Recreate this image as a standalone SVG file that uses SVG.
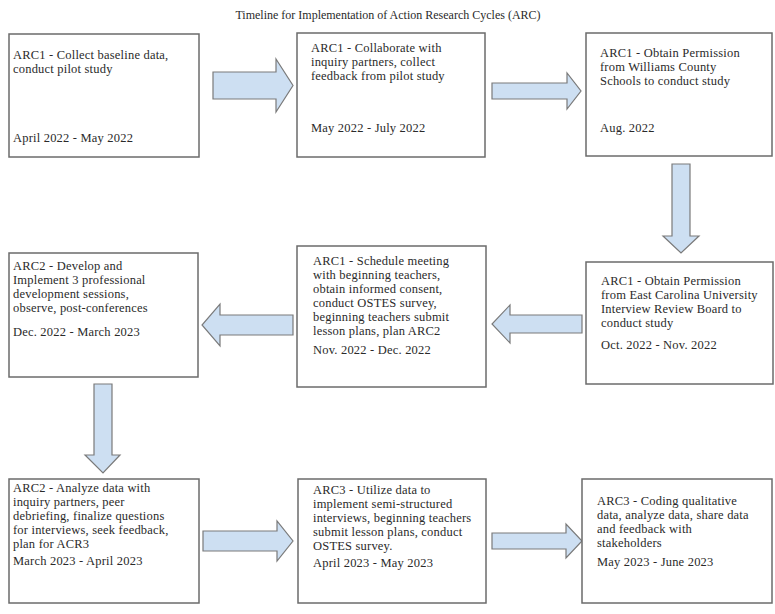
<svg xmlns="http://www.w3.org/2000/svg" width="775" height="614" viewBox="0 0 775 614">
  <style>
    .box { fill: #ffffff; stroke: #6b6b6b; stroke-width: 1.5; }
    .arrow { fill: #cddff2; stroke: #7a7a7a; stroke-width: 1.2; stroke-linejoin: miter; }
    .t { font-family: "Liberation Serif", "Times New Roman", serif; font-size: 12.5px; letter-spacing: 0.2px; fill: #2a2a2a; }
    .title { font-family: "Liberation Serif", "Times New Roman", serif; font-size: 12px; fill: #2a2a2a; text-anchor: middle; }
  </style>
  <rect width="775" height="614" fill="#ffffff"/>

  <text class="title" x="388" y="19">Timeline for Implementation of Action Research Cycles (ARC)</text>

  <!-- connectors: block arrows between steps -->
  <g id="connectors">
    <polygon class="arrow" points="213,72 276,72 276,59 293,85.5 276,112 276,99 213,99"/>
    <polygon class="arrow" points="492,83 567,83 567,73 581,91 567,109 567,99 492,99"/>
    <polygon class="arrow" points="672,164 690,164 690,236 699,236 681,253 663,236 672,236"/>
    <polygon class="arrow" points="582,315 510,315 510,305 492,324 510,343 510,333 582,333"/>
    <polygon class="arrow" points="293,315 220,315 220,304 202,325 220,346 220,335 293,335"/>
    <polygon class="arrow" points="94,384 112,384 112,455 120,455 103,473 85,455 94,455"/>
    <polygon class="arrow" points="203,531 277,531 277,521 293,541 277,561 277,551 203,551"/>
    <polygon class="arrow" points="492,533 566,533 566,524 582,541 566,558 566,549 492,549"/>
  </g>

  <g id="arc1-baseline">
    <rect class="box" x="9" y="34" width="190" height="123"/>
    <text class="t" x="13" y="59">ARC1 - Collect baseline data,</text>
    <text class="t" x="13" y="73">conduct pilot study</text>
    <text class="t" x="13" y="142">April 2022 - May 2022</text>
  </g>

  <g id="arc1-collaborate">
    <rect class="box" x="297" y="33" width="188" height="124"/>
    <text class="t" x="311" y="52">ARC1 - Collaborate with</text>
    <text class="t" x="311" y="66">inquiry partners, collect</text>
    <text class="t" x="311" y="80">feedback from pilot study</text>
    <text class="t" x="311" y="132">May 2022 - July 2022</text>
  </g>

  <g id="arc1-williams">
    <rect class="box" x="586" y="33" width="186" height="123"/>
    <text class="t" x="600" y="57">ARC1 - Obtain Permission</text>
    <text class="t" x="600" y="71">from Williams County</text>
    <text class="t" x="600" y="85">Schools to conduct study</text>
    <text class="t" x="600" y="132">Aug. 2022</text>
  </g>

  <g id="arc1-ecu">
    <rect class="box" x="586" y="262" width="187" height="122"/>
    <text class="t" x="601" y="285">ARC1 - Obtain Permission</text>
    <text class="t" x="601" y="299">from East Carolina University</text>
    <text class="t" x="601" y="313">Interview Review Board to</text>
    <text class="t" x="601" y="327">conduct study</text>
    <text class="t" x="601" y="349">Oct. 2022 - Nov. 2022</text>
  </g>

  <g id="arc1-schedule">
    <rect class="box" x="297" y="246" width="189" height="141"/>
    <text class="t" x="313" y="265">ARC1 - Schedule meeting</text>
    <text class="t" x="313" y="279">with beginning teachers,</text>
    <text class="t" x="313" y="293">obtain informed consent,</text>
    <text class="t" x="313" y="307">conduct OSTES survey,</text>
    <text class="t" x="313" y="321">beginning teachers submit</text>
    <text class="t" x="313" y="335">lesson plans, plan ARC2</text>
    <text class="t" x="313" y="354">Nov. 2022 - Dec. 2022</text>
  </g>

  <g id="arc2-develop">
    <rect class="box" x="9" y="253" width="189" height="124"/>
    <text class="t" x="13" y="270">ARC2 - Develop and</text>
    <text class="t" x="13" y="284">Implement 3 professional</text>
    <text class="t" x="13" y="298">development sessions,</text>
    <text class="t" x="13" y="312">observe, post-conferences</text>
    <text class="t" x="13" y="336">Dec. 2022 - March 2023</text>
  </g>

  <g id="arc2-analyze">
    <rect class="box" x="9" y="479" width="190" height="124"/>
    <text class="t" x="13" y="492">ARC2 - Analyze data with</text>
    <text class="t" x="13" y="506">inquiry partners, peer</text>
    <text class="t" x="13" y="520">debriefing, finalize questions</text>
    <text class="t" x="13" y="534">for interviews, seek feedback,</text>
    <text class="t" x="13" y="548">plan for ACR3</text>
    <text class="t" x="13" y="565">March 2023 - April 2023</text>
  </g>

  <g id="arc3-utilize">
    <rect class="box" x="298" y="479" width="188" height="124"/>
    <text class="t" x="313" y="494">ARC3 - Utilize data to</text>
    <text class="t" x="313" y="508">implement semi-structured</text>
    <text class="t" x="313" y="522">interviews, beginning teachers</text>
    <text class="t" x="313" y="536">submit lesson plans, conduct</text>
    <text class="t" x="313" y="550">OSTES survey.</text>
    <text class="t" x="313" y="567">April 2023 - May 2023</text>
  </g>

  <g id="arc3-coding">
    <rect class="box" x="582" y="479" width="190" height="124"/>
    <text class="t" x="597" y="505">ARC3 - Coding qualitative</text>
    <text class="t" x="597" y="519">data, analyze data, share data</text>
    <text class="t" x="597" y="533">and feedback with</text>
    <text class="t" x="597" y="547">stakeholders</text>
    <text class="t" x="597" y="566">May 2023 - June 2023</text>
  </g>
</svg>
